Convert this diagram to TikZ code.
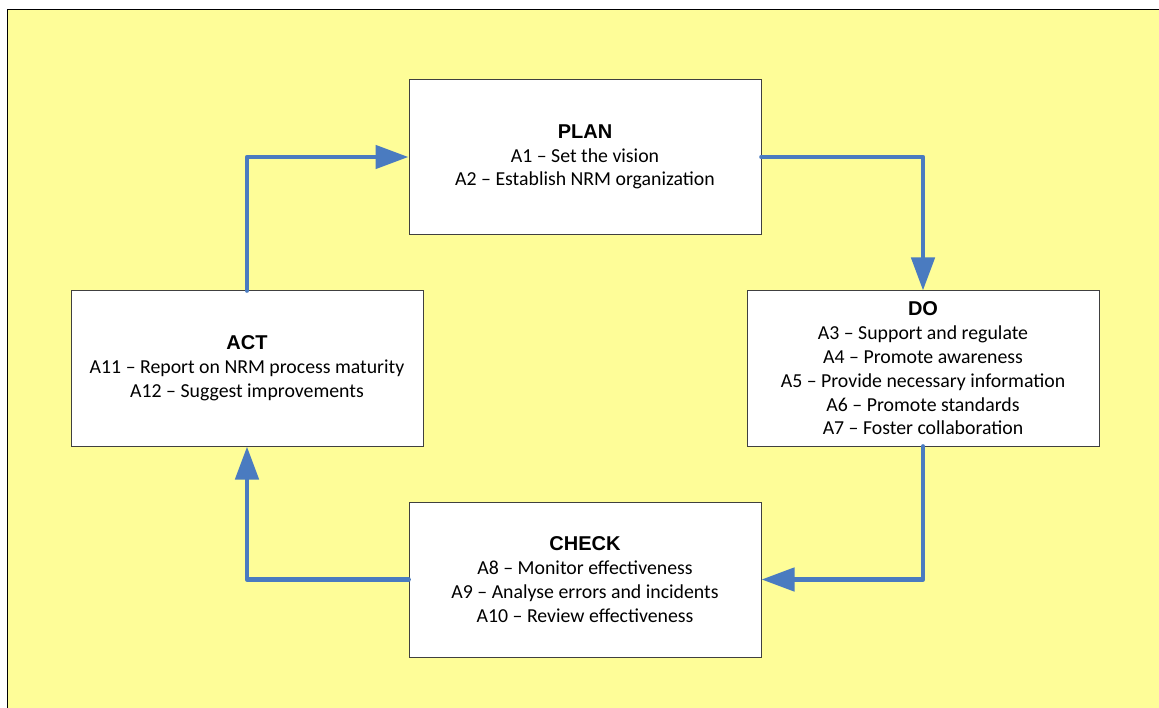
\documentclass[tikz,border=0pt]{standalone}
\usepackage{fontspec}
\setmainfont{Carlito}
\newfontfamily\titlefont{Liberation Sans}
\usepackage{tikz}
\usetikzlibrary{arrows.meta}
\definecolor{bgyellow}{HTML}{FEFD98}
\definecolor{flowblue}{HTML}{4A7BC0}

\begin{document}
\begin{tikzpicture}[x=1pt,y=-1pt,
    box/.style={draw=black!75,line width=1pt,fill=white,minimum width=352pt,minimum height=155pt,
        inner sep=0pt,align=center,font=\fontsize{19.8}{23.8}\selectfont},
    flow/.style={draw=flowblue,line width=4.7pt,line join=round,line cap=round,
        -{Triangle[length=33pt,width=23pt]}}]
            \useasboundingbox (0,0) rectangle (1159,708);
            \fill[bgyellow] (7,10) rectangle (1159,708);
            \draw[line width=1pt] (7,708) -- (7,10) -- (1159,10);

            \node[box] (plan) at (585,157) {{\titlefont\bfseries\fontsize{20}{24}\selectfont PLAN}\\A1 – Set the vision\\A2 – Establish NRM organization};
            \node[box] (do) at (923,368.5) {{\titlefont\bfseries\fontsize{20}{24}\selectfont DO}\\A3 – Support and regulate\\A4 – Promote awareness\\A5 – Provide necessary information\\A6 – Promote standards\\A7 – Foster collaboration};
            \node[box] (check) at (585,579.5) {{\titlefont\bfseries\fontsize{20}{24}\selectfont CHECK}\\A8 – Monitor effectiveness\\A9 – Analyse errors and incidents\\A10 – Review effectiveness};
            \node[box] (act) at (247,368.5) {{\titlefont\bfseries\fontsize{20}{24}\selectfont ACT}\\A11 – Report on NRM process maturity\\A12 – Suggest improvements};

            \draw[flow] (act.north) |- (plan.west);
            \draw[flow] (plan.east) -| (do.north);
            \draw[flow] (do.south) |- (check.east);
            \draw[flow] (check.west) -| (act.south);
        \end{tikzpicture}
\end{document}
